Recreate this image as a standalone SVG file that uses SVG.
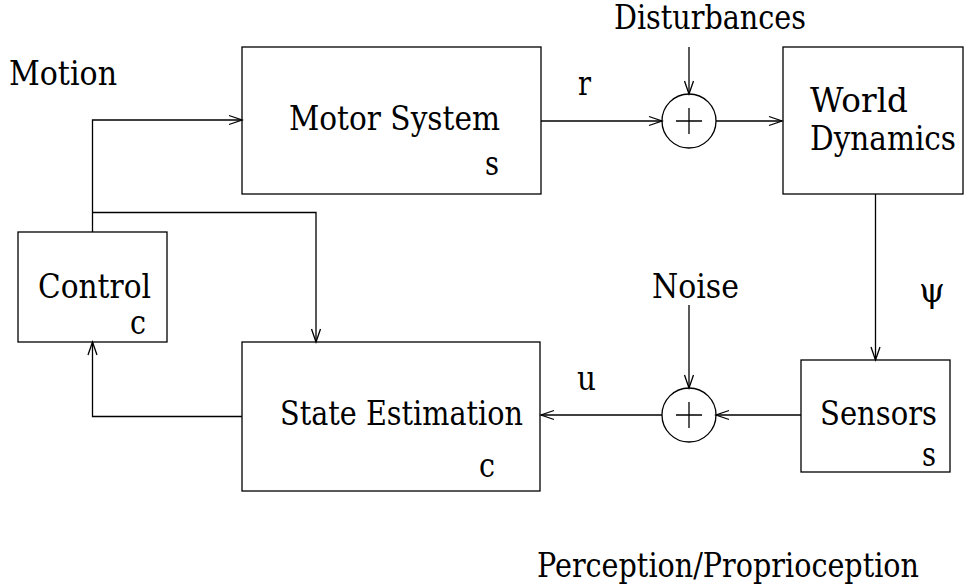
<svg xmlns="http://www.w3.org/2000/svg" width="964" height="588" viewBox="0 0 964 588">
<style>
.b{fill:none;stroke:#000;stroke-width:1.3}
.l{fill:none;stroke:#000;stroke-width:1.3}
.t{font-family:'DejaVu Serif','Liberation Serif',serif;font-size:33px;fill:#000}
</style>
<defs>
<marker id="a" markerWidth="16" markerHeight="12" viewBox="-14 -6 16 12" refX="0" refY="0" orient="auto" markerUnits="userSpaceOnUse">
<path d="M-13,-4.5 L0,0 L-13,4.5" fill="none" stroke="#000" stroke-width="1.3"/>
</marker>
</defs>
<rect width="964" height="588" fill="#fff"/>
<g class="t">
<text x="9" y="85" textLength="108" lengthAdjust="spacingAndGlyphs">Motion</text>
<text x="537" y="577" textLength="382" lengthAdjust="spacingAndGlyphs">Perception/Proprioception</text>
<text x="614" y="29" textLength="192" lengthAdjust="spacingAndGlyphs">Disturbances</text>
<text x="652" y="298" textLength="87" lengthAdjust="spacingAndGlyphs">Noise</text>
<text x="578" y="95" textLength="13" lengthAdjust="spacingAndGlyphs">r</text>
<text x="577" y="390" textLength="19" lengthAdjust="spacingAndGlyphs">u</text>
<text x="919" y="302">ψ</text>
</g>
<g id="motor" class="t"><rect class="b" x="242" y="47" width="299" height="147"/><text x="289" y="130" textLength="211" lengthAdjust="spacingAndGlyphs">Motor System</text><text x="485" y="175" textLength="14" lengthAdjust="spacingAndGlyphs">s</text></g>
<g id="world" class="t"><rect class="b" x="783" y="47" width="180" height="147"/><text x="810" y="112" textLength="98" lengthAdjust="spacingAndGlyphs">World</text><text x="810" y="150" textLength="146" lengthAdjust="spacingAndGlyphs">Dynamics</text></g>
<g id="control" class="t"><rect class="b" x="18" y="232" width="149" height="110"/><text x="38" y="298" textLength="113" lengthAdjust="spacingAndGlyphs">Control</text><text x="130" y="334" textLength="16" lengthAdjust="spacingAndGlyphs">c</text></g>
<g id="state" class="t"><rect class="b" x="242" y="342" width="298" height="149"/><text x="280" y="425" textLength="243" lengthAdjust="spacingAndGlyphs">State Estimation</text><text x="479" y="477" textLength="16" lengthAdjust="spacingAndGlyphs">c</text></g>
<g id="sensors" class="t"><rect class="b" x="801" y="360" width="149" height="112"/><text x="820" y="425" textLength="117" lengthAdjust="spacingAndGlyphs">Sensors</text><text x="922" y="466" textLength="14" lengthAdjust="spacingAndGlyphs">s</text></g>
<g id="sum1"><circle class="b" cx="689" cy="121" r="27"/><path class="l" d="M676,121 H702 M689,108 V134"/></g>
<g id="sum2"><circle class="b" cx="689" cy="415" r="27"/><path class="l" d="M676,415 H702 M689,402 V428"/></g>
<g id="connectors">
<path class="l" d="M541,121 H662" marker-end="url(#a)"/>
<path class="l" d="M716,121 H782" marker-end="url(#a)"/>
<path class="l" d="M689,47 V94" marker-end="url(#a)"/>
<path class="l" d="M875.5,194 V360" marker-end="url(#a)"/>
<path class="l" d="M689,305 V388" marker-end="url(#a)"/>
<path class="l" d="M801,415 H716" marker-end="url(#a)"/>
<path class="l" d="M662,415 H541" marker-end="url(#a)"/>
<path class="l" d="M242,416.5 H92.5 V342" marker-end="url(#a)"/>
<path class="l" d="M92.5,232 V120 H242" marker-end="url(#a)"/>
<path class="l" d="M92.5,212.5 H316 V342" marker-end="url(#a)"/>
</g>
</svg>
